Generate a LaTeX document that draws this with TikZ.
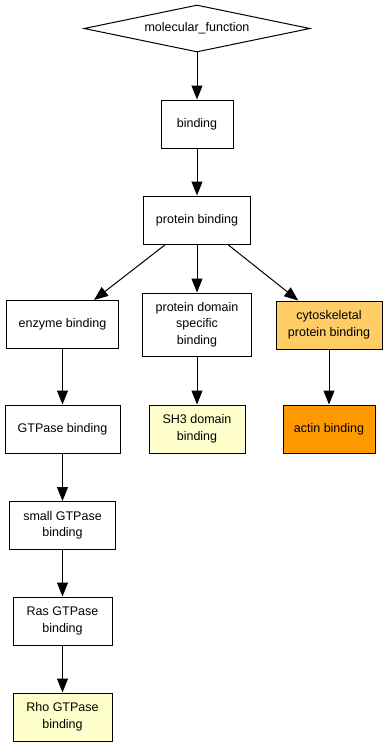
\documentclass[tikz,border=0pt]{standalone}
\usepackage{fontspec}
\setmainfont{Liberation Sans}
\usetikzlibrary{shapes.geometric,arrows.meta}
\definecolor{termyellow}{HTML}{FFFFCC}
\definecolor{termlight}{HTML}{FFCC66}
\definecolor{termorange}{HTML}{FF9900}
\tikzset{
  term/.style={draw=black, line width=1pt, rectangle, align=center, inner sep=2pt,
    font=\fontsize{12.5}{16.5}\selectfont, fill=white},
  root/.style={draw=black, line width=1pt, diamond, inner sep=0pt, aspect=4.8,
    minimum width=226pt, minimum height=47pt, font=\fontsize{12.5}{16.5}\selectfont},
  isa/.style={draw=black, line width=1pt, -{Triangle[length=14pt,width=11pt]}},
}
\begin{document}
\begin{tikzpicture}[x=1pt,y=-1pt]
\useasboundingbox (0,0) rectangle (388,747);
\fill[white] (0,0) rectangle (388,747);

% root term and the main chain
\node[root] (mf) at (197,28.5) {molecular\_function};
\node[term, minimum width=72pt, minimum height=48pt] (bind) at (197,124) {binding};
\node[term, minimum width=107pt, minimum height=48pt] (pb) at (197,220) {protein binding};

% children of protein binding
\node[term, minimum width=112pt, minimum height=48pt] (eb) at (62.5,324.5) {enzyme binding};
\node[term, minimum width=109pt, minimum height=63pt] (pds) at (197,324.5) {protein domain\\specific\\binding};
\node[term, minimum width=106pt, minimum height=48pt, fill=termlight] (cpb) at (329,325) {cytoskeletal\\protein binding};

% third row
\node[term, minimum width=115pt, minimum height=48pt] (gb) at (62.5,429) {GTPase binding};
\node[term, minimum width=96pt, minimum height=48pt, fill=termyellow] (sh3) at (197,429) {SH3 domain\\binding};
\node[term, minimum width=92pt, minimum height=48pt, fill=termorange] (ab) at (329,429) {actin binding};

% GTPase chain
\node[term, minimum width=106pt, minimum height=48pt] (sgb) at (62.5,525.5) {small GTPase\\binding};
\node[term, minimum width=99pt, minimum height=48pt] (rgb) at (62.5,621) {Ras GTPase\\binding};
\node[term, minimum width=99pt, minimum height=48pt, fill=termyellow] (rhob) at (62.5,717) {Rho GTPase\\binding};

% is-a edges
\draw[isa] (mf) -- (bind);
\draw[isa] (bind) -- (pb);
\draw[isa] (pb) -- (eb);
\draw[isa] (pb) -- (pds);
\draw[isa] (pb) -- (cpb);
\draw[isa] (eb) -- (gb);
\draw[isa] (pds) -- (sh3);
\draw[isa] (cpb) -- (ab);
\draw[isa] (gb) -- (sgb);
\draw[isa] (sgb) -- (rgb);
\draw[isa] (rgb) -- (rhob);
\end{tikzpicture}
\end{document}
